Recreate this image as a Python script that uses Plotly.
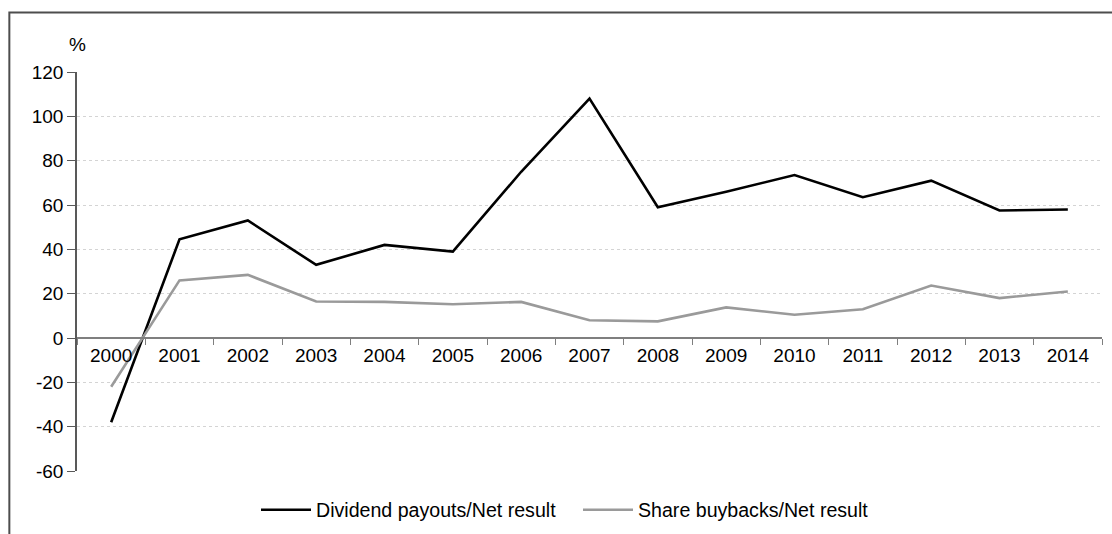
import plotly.graph_objects as go

years = [str(y) for y in range(2000, 2015)]
dividend_payouts = [-38, 44.5, 53, 33, 42, 39, 75, 108, 59, 66, 73.5, 63.5, 71, 57.5, 58]
share_buybacks = [-22, 26, 28.5, 16.5, 16.3, 15.2, 16.3, 8, 7.5, 13.8, 10.5, 13, 23.7, 18, 21]
y_ticks = [-60, -40, -20, 0, 20, 40, 60, 80, 100, 120]
y_tick_labels = ["-60", "-40", "-20", "0", "20", "40", "60", "80", "100", "120"]

FONT = "Liberation Sans, Arial, sans-serif"
W, H = 1112, 534

fig = go.Figure()
fig.add_trace(go.Scatter(
    x=years, y=dividend_payouts, mode="lines",
    name="Dividend payouts/Net result",
    line=dict(color="#000000", width=2.6),
    legend="legend",
))
fig.add_trace(go.Scatter(
    x=years, y=share_buybacks, mode="lines",
    name="Share buybacks/Net result",
    line=dict(color="#9a9a9a", width=2.6),
    legend="legend2",
))


def legend_box(x_px):
    return dict(
        orientation="h", xref="container", yref="container",
        x=x_px / W, xanchor="left", y=1 - 510 / H, yanchor="middle",
        font=dict(family=FONT, size=19.6, color="#000000"),
        bgcolor="rgba(0,0,0,0)", itemwidth=50,
    )


fig.update_layout(
    width=W, height=H,
    margin=dict(l=77, r=10, t=72, b=63, autoexpand=False),
    paper_bgcolor="white", plot_bgcolor="white",
    font=dict(family=FONT, size=19, color="#000000"),
    showlegend=True,
    legend=legend_box(256),
    legend2=legend_box(578),
    xaxis=dict(
        type="category", range=[-0.5, 14.5], automargin=False,
        anchor="free", position=1/3,
        showline=True, linecolor="#7f7f7f", linewidth=1.5,
        ticks="outside", tickson="boundaries", ticklen=6, tickcolor="#7f7f7f", tickwidth=1.2,
        showgrid=False, zeroline=False,
        tickfont=dict(family=FONT, size=19, color="#000000"),
    ),
    yaxis=dict(
        range=[-60, 120], tickvals=y_ticks, ticktext=y_tick_labels, automargin=False,
        showline=True, linecolor="#595959", linewidth=1.5,
        ticks="outside", ticklen=8, tickcolor="#595959", tickwidth=1.2,
        showgrid=True, gridcolor="#d4d4d4", griddash="dot", gridwidth=1,
        zeroline=False,
        tickfont=dict(family=FONT, size=19, color="#000000"),
    ),
)

# outer frame around the chart
fig.add_shape(type="rect", xref="paper", yref="paper",
              x0=-0.066, x1=1.2, y0=-0.3, y1=1.149,
              line=dict(color="#4d4d4d", width=2), layer="below")

# unit label above the y axis
fig.add_annotation(text="%", xref="paper", yref="paper", x=0, y=1.069,
                   showarrow=False, xanchor="center", yanchor="middle",
                   font=dict(family=FONT, size=19, color="#000000"))

fig.write_html("out.html")
